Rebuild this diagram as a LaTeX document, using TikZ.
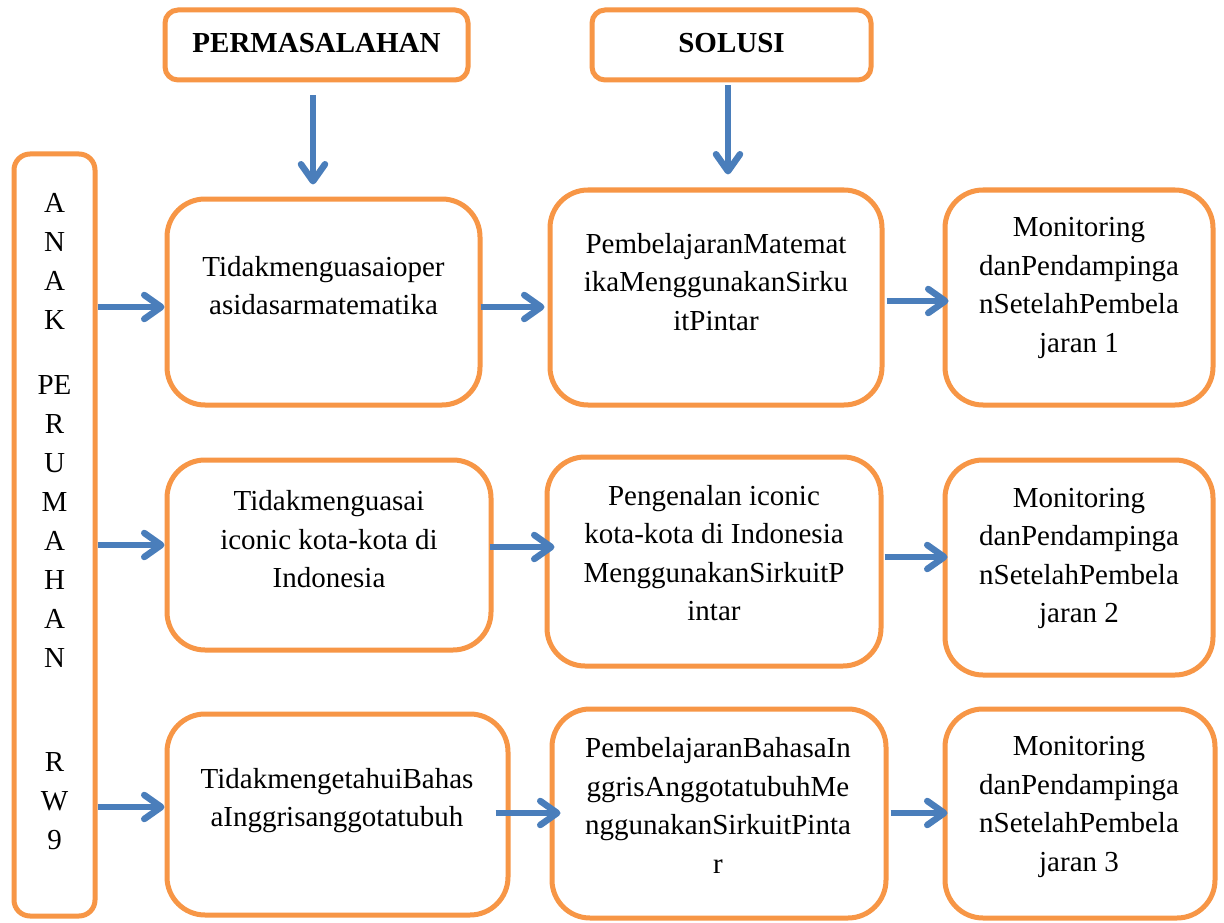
\documentclass[tikz,border=0pt]{standalone}
\usepackage{fontspec}
\setmainfont{Liberation Serif}
\usetikzlibrary{arrows.meta,calc}
\definecolor{boxorange}{HTML}{F79646}
\definecolor{arrowblue}{HTML}{4A7EBB}
\tikzset{
  box/.style={draw=boxorange, line width=5pt, fill=white, rectangle, inner sep=0pt, rounded corners=38pt},
  titlebox/.style={box, rounded corners=13pt, font=\fontsize{29}{38.5}\selectfont\bfseries},
  sidebox/.style={box, rounded corners=16pt},
  txt/.style={align=center, inner sep=0pt, font=\fontsize{29}{38.5}\selectfont},
  sidetxt/.style={align=center, inner sep=0pt, font=\fontsize{29}{39}\selectfont},
  arr/.style={draw=arrowblue, line width=6.5pt,
    -{Straight Barb[length=17pt,width=24pt,round]}}
}
\begin{document}
\begin{tikzpicture}[x=1pt,y=-1pt]
\useasboundingbox (0,0) rectangle (1224,923);
\fill[white] (0,0) rectangle (1224,923);

% title boxes
\node[titlebox, minimum width=303, minimum height=70] (perm) at (316.5,45) {\strut PERMASALAHAN};
\node[titlebox, minimum width=279, minimum height=70] (sol) at (731.5,45) {\strut SOLUSI};

% side box
\node[sidebox, minimum width=81, minimum height=762] (side) at (54.5,535) {};
\node[sidetxt, anchor=north] (sidet) at (54.5,185.3)
 {\strut A\\\strut N\\\strut A\\\strut K\\[26pt]\strut PE\\\strut R\\\strut U\\\strut M\\\strut A\\\strut H\\\strut A\\\strut N\\[65pt]\strut R\\\strut W\\\strut 9};

% row 1
\node[box, minimum width=313, minimum height=206] (a1) at (323.5,302) {};
\node[box, minimum width=332, minimum height=215] (b1) at (716,297.5) {};
\node[box, minimum width=268, minimum height=215] (c1) at (1079,297.5) {};
\node[txt] (a1t) at (323.5,288) {\strut Tidakmenguasaioper\\\strut asidasarmatematika};
\node[txt] (b1t) at (716,284) {\strut PembelajaranMatemat\\\strut ikaMenggunakanSirku\\\strut itPintar};
\node[txt] (c1t) at (1079,287) {\strut Monitoring\\\strut danPendampinga\\\strut nSetelahPembela\\\strut jaran 1};

% row 2
\node[box, minimum width=324, minimum height=190] (a2) at (329,555) {};
\node[box, minimum width=334, minimum height=209] (b2) at (714,561.5) {};
\node[box, minimum width=268, minimum height=215] (c2) at (1079,567.5) {};
\node[txt] (a2t) at (329,541.5) {\strut Tidakmenguasai\\\strut iconic kota-kota di\\\strut Indonesia};
\node[txt] (b2t) at (714,555.5) {\strut Pengenalan iconic\\\strut kota-kota di Indonesia\\\strut MenggunakanSirkuitP\\\strut intar};
\node[txt] (c2t) at (1079,557.5) {\strut Monitoring\\\strut danPendampinga\\\strut nSetelahPembela\\\strut jaran 2};

% row 3
\node[box, minimum width=341, minimum height=201] (a3) at (337.5,814.5) {};
\node[box, minimum width=334, minimum height=209] (b3) at (719,813.5) {};
\node[box, minimum width=270, minimum height=209] (c3) at (1080,813.5) {};
\node[txt] (a3t) at (337,800) {\strut TidakmengetahuiBahas\\\strut aInggrisanggotatubuh};
\node[txt] (b3t) at (718,808) {\strut PembelajaranBahasaIn\\\strut ggrisAnggotatubuhMe\\\strut nggunakanSirkuitPinta\\\strut r};
\node[txt] (c3t) at (1079,806) {\strut Monitoring\\\strut danPendampinga\\\strut nSetelahPembela\\\strut jaran 3};

% arrow levels
\coordinate (r1) at (0,307);
\coordinate (r1b) at (0,301);
\coordinate (r2) at (0,545);
\coordinate (r2a) at (0,547);
\coordinate (r2b) at (0,557);
\coordinate (r3) at (0,807);
\coordinate (r3a) at (0,813);

% vertical arrows
\draw[arr] ($(perm.south)+(-3.5,13)$) -- ($(perm.south |- a1.north)+(-3.5,-12)$);
\draw[arr] ($(sol.south)+(-3.5,3)$) -- ($(sol.south |- b1.north)+(-3.5,-13)$);

% side arrows
\draw[arr] (side.east |- r1) -- (a1.west |- r1);
\draw[arr] (side.east |- r2) -- (a2.west |- r2);
\draw[arr] (side.east |- r3) -- (a3.west |- r3);

% row arrows
\draw[arr] ($(a1.east |- r1)+(-2,0)$) -- ($(b1.west |- r1)+(-3,0)$);
\draw[arr] ($(b1.east |- r1b)+(2,0)$) -- ($(c1.west |- r1b)+(6,0)$);
\draw[arr] ($(a2.east |- r2a)+(-4,0)$) -- ($(b2.west |- r2a)+(10,0)$);
\draw[arr] ($(b2.east |- r2b)+(1,0)$) -- ($(c2.west |- r2b)+(5,0)$);
\draw[arr] ($(a3.east |- r3a)+(-15,0)$) -- ($(b3.west |- r3a)+(11,0)$);
\draw[arr] ($(b3.east |- r3a)+(2,0)$) -- ($(c3.west |- r3a)+(5,0)$);
\end{tikzpicture}
\end{document}
